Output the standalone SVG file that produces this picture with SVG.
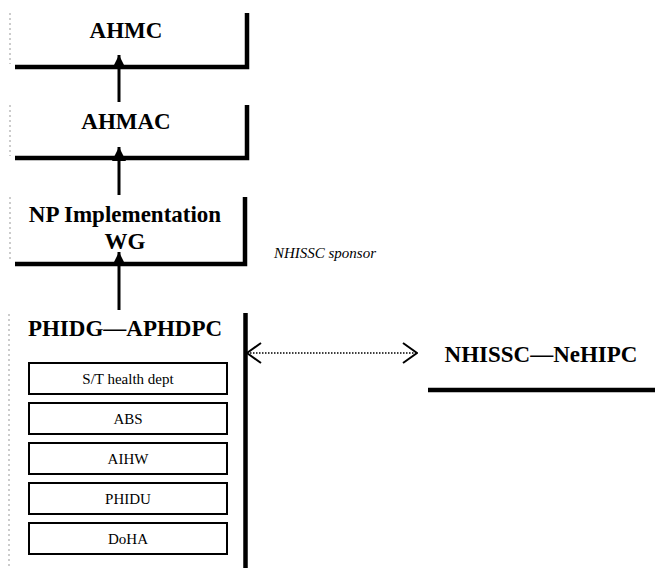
<svg xmlns="http://www.w3.org/2000/svg" width="655" height="568" viewBox="0 0 655 568">
<style>
text{font-family:"Liberation Serif","Times New Roman","DejaVu Serif",serif;fill:#000;text-anchor:middle}
.big{font-size:23px;font-weight:bold}
.sm{font-size:15px}
.frame{fill:none;stroke:#000;stroke-width:4.5}
.faint{stroke:#999;stroke-width:1;stroke-dasharray:2 3;fill:none}
.sub{fill:#fff;stroke:#000;stroke-width:2}
.arr{stroke:#000;stroke-width:3;fill:none}
</style>
<defs>
<marker id="ah" markerWidth="14" markerHeight="14" refX="14" refY="7" orient="auto" markerUnits="userSpaceOnUse">
<path d="M0,0 L14,7 L0,14 Z" fill="#000"/>
</marker>
<marker id="open" markerWidth="16" markerHeight="22" refX="15" refY="11" orient="auto-start-reverse" markerUnits="userSpaceOnUse">
<path d="M1,1 L15,11 L1,21" fill="none" stroke="#000" stroke-width="2"/>
</marker>
</defs>
<rect width="655" height="568" fill="#fff"/>

<g id="ahmc">
<line class="faint" x1="10" y1="13" x2="10" y2="64"/>
<path class="frame" d="M15,67 H247 V13"/>
<text class="big" x="126" y="38">AHMC</text>
</g>

<g id="ahmac">
<line class="faint" x1="10" y1="105" x2="10" y2="156"/>
<path class="frame" d="M15,158 H247 V105"/>
<text class="big" x="126" y="129">AHMAC</text>
</g>

<g id="np-wg">
<line class="faint" x1="10" y1="197" x2="10" y2="262"/>
<path class="frame" d="M15,264 H245 V197"/>
<text class="big" x="125" y="222">NP Implementation</text>
<text class="big" x="125" y="249">WG</text>
</g>

<g id="sponsor-label">
<text x="325" y="258" style="font-size:15px;font-style:italic">NHISSC sponsor</text>
</g>

<g id="phidg">
<line class="faint" x1="9" y1="314" x2="9" y2="568"/>
<line x1="245.5" y1="313" x2="245.5" y2="568" stroke="#000" stroke-width="4.5"/>
<text class="big" x="125" y="336">PHIDG—APHDPC</text>
</g>

<g id="st-health">
<rect class="sub" x="29" y="363" width="198" height="31"/>
<text class="sm" x="128" y="384">S/T health dept</text>
</g>
<g id="abs">
<rect class="sub" x="29" y="403" width="198" height="31"/>
<text class="sm" x="128" y="424">ABS</text>
</g>
<g id="aihw">
<rect class="sub" x="29" y="443" width="198" height="31"/>
<text class="sm" x="128" y="464">AIHW</text>
</g>
<g id="phidu">
<rect class="sub" x="29" y="483" width="198" height="31"/>
<text class="sm" x="128" y="504">PHIDU</text>
</g>
<g id="doha">
<rect class="sub" x="29" y="523" width="198" height="31"/>
<text class="sm" x="128" y="544">DoHA</text>
</g>

<g id="nhissc">
<text class="big" x="541" y="362">NHISSC—NeHIPC</text>
<line x1="428" y1="390" x2="655" y2="390" stroke="#000" stroke-width="4.5"/>
</g>

<g id="connectors">
<line class="arr" x1="119" y1="102" x2="119" y2="55" marker-end="url(#ah)"/>
<line class="arr" x1="119" y1="195" x2="119" y2="147" marker-end="url(#ah)"/>
<line class="arr" x1="119" y1="310" x2="119" y2="252" marker-end="url(#ah)"/>
<line x1="247" y1="353" x2="417" y2="353" stroke="#000" stroke-width="1.6" stroke-dasharray="1.5 1.5" marker-start="url(#open)" marker-end="url(#open)"/>
</g>
</svg>
